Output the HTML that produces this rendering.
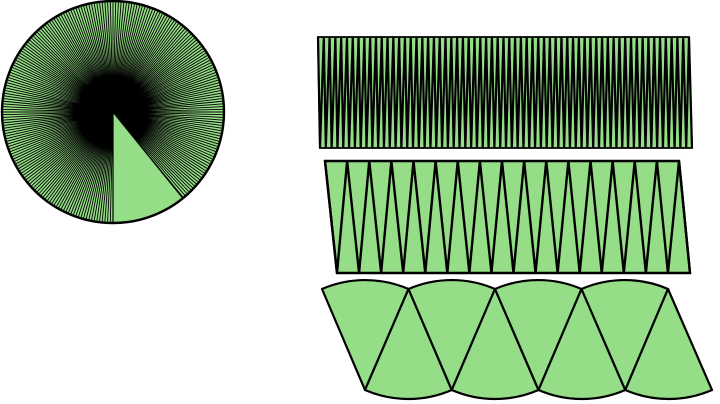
<!DOCTYPE html>
<html><head><meta charset="utf-8"><style>
html,body{margin:0;padding:0;background:#fff;width:720px;height:404px;overflow:hidden}
svg{display:block}
</style></head><body>
<svg id="fig" width="720" height="404" viewBox="0 0 720 404" xmlns="http://www.w3.org/2000/svg"></svg>
<script>
// Number of sector pairs in each rearranged strip
const stripPairs = [64, 16, 4];
// Strip bounds [x top-left, x bottom-left, x top-right, x bottom-right, y top, y bottom]
const stripBounds = [[318, 320, 689, 692, 37, 148], [325, 337, 679, 690, 161, 273]];
const radialLines = 256;
const circleGeom = {cx: 113, cy: 112, r: 111};
const wedgeAngles = [51, 90]; // degrees, screen coords

const NS = 'http://www.w3.org/2000/svg';
const svgEl = document.getElementById('fig');
const FILL = '#95dd87';
function mk(tag, attrs) { const e = document.createElementNS(NS, tag); for (const k in attrs) e.setAttribute(k, attrs[k]); svgEl.appendChild(e); return e; }

const c = mk('circle', {cx: circleGeom.cx, cy: circleGeom.cy, r: circleGeom.r, fill: FILL, stroke: 'none'});


let d = '';
for (let i = 0; i < radialLines; i++) {
  const a = i * 360 / radialLines;
  if (a > wedgeAngles[0] + 0.5 && a < wedgeAngles[1] - 0.5) continue;
  const rad = a * Math.PI / 180;
  d += `M${circleGeom.cx} ${circleGeom.cy}L${(circleGeom.cx + circleGeom.r * Math.cos(rad)).toFixed(2)} ${(circleGeom.cy + circleGeom.r * Math.sin(rad)).toFixed(2)}`;
}
const rl = mk('path', {d: d, stroke: '#000', 'stroke-width': 0.9, fill: 'none'});


const w1 = wedgeAngles[0] * Math.PI / 180, w2 = wedgeAngles[1] * Math.PI / 180;
const wl = mk('path', {d: `M${circleGeom.cx} ${circleGeom.cy}L${circleGeom.cx + circleGeom.r * Math.cos(w1)} ${circleGeom.cy + circleGeom.r * Math.sin(w1)}M${circleGeom.cx} ${circleGeom.cy}L${circleGeom.cx + circleGeom.r * Math.cos(w2)} ${circleGeom.cy + circleGeom.r * Math.sin(w2)}`, stroke: '#000', 'stroke-width': 1.2, fill: 'none'});


const co = mk('circle', {cx: circleGeom.cx, cy: circleGeom.cy, r: circleGeom.r, fill: 'none', stroke: '#000', 'stroke-width': 2.4});



stripBounds.forEach((b, s) => {
  const n = stripPairs[s];
  const [xtl, xbl, xtr, xbr, yt, yb] = b;
  const tw = (xtr - xtl) / n, bw = (xbr - xbl) / n;
  const poly = mk('polygon', {points: `${xtl},${yt} ${xtr},${yt} ${xbr},${yb} ${xbl},${yb}`, fill: FILL, stroke: '#000', 'stroke-width': s === 0 ? 1.8 : 2.4});
  
  
  let z = '';
  for (let i = 0; i <= n; i++) {
    z += (i === 0 ? 'M' : 'L') + (xtl + tw * i).toFixed(2) + ' ' + yt + 'L' + (xbl + bw * i).toFixed(2) + ' ' + yb;
  }
  const zz = mk('path', {d: z, fill: 'none', stroke: '#000', 'stroke-width': s === 0 ? 2.2 : 2.4, 'stroke-linejoin': 'miter'});
  
  
});

const n3 = stripPairs[2];
const topPts = [], botPts = [];
const tx0 = 322, tx1 = 668, bx0 = 365, bx1 = 712, ty = 289, by = 390, R = 109;
for (let i = 0; i <= n3; i++) { topPts.push(tx0 + (tx1 - tx0) * i / n3); botPts.push(bx0 + (bx1 - bx0) * i / n3); }
for (let k = 0; k < n3; k++) {
  const up = mk('path', {d: `M${botPts[k]} ${by}L${topPts[k]} ${ty}A${R} ${R} 0 0 1 ${topPts[k + 1]} ${ty}Z`, fill: FILL, stroke: '#000', 'stroke-width': 2.2, 'stroke-linejoin': 'round'});
  
  
  const dn = mk('path', {d: `M${topPts[k + 1]} ${ty}L${botPts[k + 1]} ${by}A${R} ${R} 0 0 1 ${botPts[k]} ${by}Z`, fill: FILL, stroke: '#000', 'stroke-width': 2.2, 'stroke-linejoin': 'round'});
  
  
}
</script>
</body></html>
